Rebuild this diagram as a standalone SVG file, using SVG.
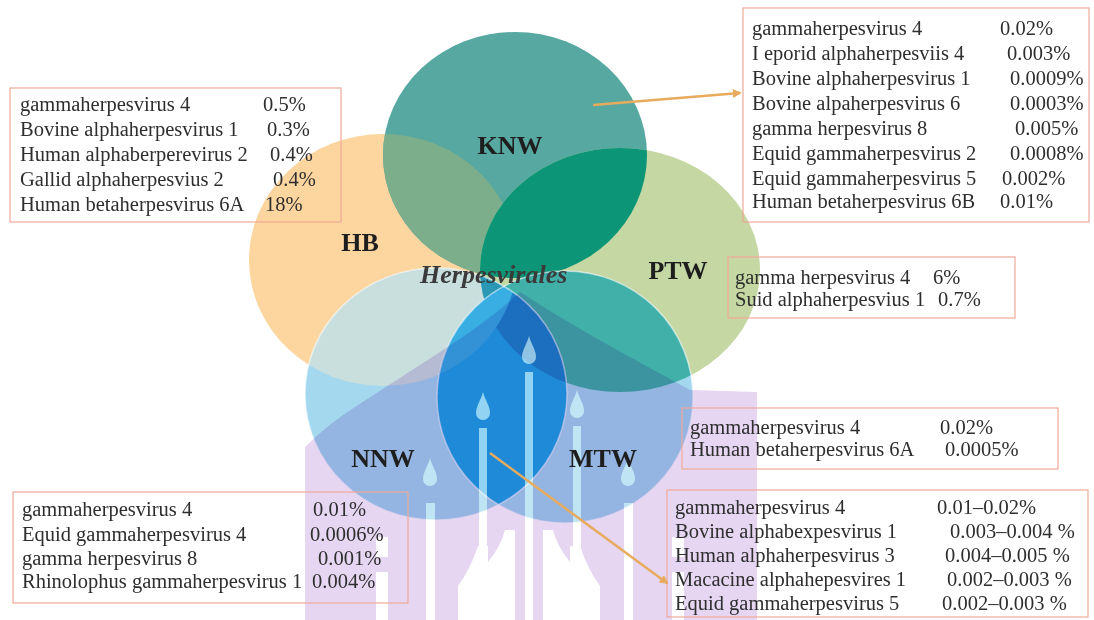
<svg xmlns="http://www.w3.org/2000/svg" xmlns:xlink="http://www.w3.org/1999/xlink" width="1094" height="620" viewBox="0 0 1094 620">
<style>
.t{font-family:"Liberation Serif","Times New Roman",serif;font-size:20.5px;fill:#2e2e2e}
.lbl{font-family:"Liberation Serif","Times New Roman",serif;font-size:26px;font-weight:bold;fill:#1e1e1e;text-anchor:middle}
.it{font-family:"Liberation Serif","Times New Roman",serif;font-size:26px;font-style:italic;font-weight:bold;fill:#3a3a3a}
.box{fill:none;stroke:#f0a898;stroke-width:1.2}
.arr{fill:none;stroke:#e8ab5e;stroke-width:2.5;marker-end:url(#ah)}
.edge{fill:none;stroke:#ffffff;stroke-opacity:0.55;stroke-width:1.5}
</style>
<defs>
<ellipse id="eHB" cx="383" cy="260" rx="134" ry="126"/>
<ellipse id="eKNW" cx="515" cy="155" rx="132" ry="123"/>
<ellipse id="ePTW" cx="620" cy="270" rx="140" ry="122"/>
<ellipse id="eNNW" cx="436" cy="394" rx="131" ry="126"/>
<ellipse id="eMTW" cx="565" cy="397" rx="128" ry="126"/>
<clipPath id="cHB"><use xlink:href="#eHB"/></clipPath>
<clipPath id="cKNW"><use xlink:href="#eKNW"/></clipPath>
<clipPath id="cPTW"><use xlink:href="#ePTW"/></clipPath>
<clipPath id="cNNW"><use xlink:href="#eNNW"/></clipPath>
<clipPath id="cMTW"><use xlink:href="#eMTW"/></clipPath>
<g id="holes">
<path d="M529,336 C531,344 536,350 536,357 A7,7 0 0 1 522,357 C522,350 527,344 529,336 Z"/>
<rect x="525" y="372" width="8" height="248"/>
<path d="M483,392 C485,400 490,406 490,413 A7,7 0 0 1 476,413 C476,406 481,400 483,392 Z"/>
<rect x="479" y="428" width="8" height="192"/>
<path d="M577,390 C579,398 584,404 584,411 A7,7 0 0 1 570,411 C570,404 575,398 577,390 Z"/>
<rect x="573" y="426" width="8" height="194"/>
<path d="M430,458 C432,466 437,472 437,479 A7,7 0 0 1 423,479 C423,472 428,466 430,458 Z"/>
<rect x="426" y="503" width="9" height="117"/>
<path d="M628,458 C630,466 635,472 635,479 A7,7 0 0 1 621,479 C621,472 626,466 628,458 Z"/>
<rect x="624" y="503" width="9" height="117"/>
<rect x="376" y="537" width="12" height="20"/>
<rect x="376" y="572" width="12" height="48"/>
<rect x="672" y="537" width="12" height="20"/>
<rect x="672" y="572" width="12" height="48"/>
<path d="M458,620 L458,586 Q470,570 478,546 L488,546 L488,562 Q500,548 505,530 L515,530 L515,620 Z"/>
<path d="M600,620 L600,586 Q588,570 580,546 L570,546 L570,562 Q558,548 553,530 L543,530 L543,620 Z"/>
</g>
<mask id="wmMask" maskUnits="userSpaceOnUse" x="0" y="0" width="1094" height="620">
<rect x="0" y="0" width="1094" height="620" fill="#fff"/>
<use xlink:href="#holes" fill="#000"/>
</mask>
<marker id="ah" viewBox="0 0 10 10" refX="8" refY="5" markerWidth="3.6" markerHeight="3.6" orient="auto">
<path d="M0,0 L10,5 L0,10 Z" fill="#e8ab5e"/>
</marker>
</defs>
<rect x="0" y="0" width="1094" height="620" fill="#ffffff"/>

<g id="circles">
<use xlink:href="#eHB" fill="#fcd59f"/>
<use xlink:href="#eKNW" fill="#56a8a1"/>
<use xlink:href="#eKNW" fill="#7dae8b" clip-path="url(#cHB)"/>
<use xlink:href="#ePTW" fill="#c5d7a3"/>
<use xlink:href="#ePTW" fill="#0c9677" clip-path="url(#cKNW)"/>
<use xlink:href="#eNNW" fill="#a4d8ee"/>
<use xlink:href="#eNNW" fill="#c9dfde" clip-path="url(#cHB)"/>
<use xlink:href="#eNNW" fill="#3ca6ae" clip-path="url(#cKNW)"/>
<use xlink:href="#eNNW" fill="#2a97b4" clip-path="url(#cPTW)"/>
<use xlink:href="#eMTW" fill="#a4d8ee"/>
<use xlink:href="#eMTW" fill="#41b0a9" clip-path="url(#cPTW)"/>
<use xlink:href="#eMTW" fill="#2d9c9f" clip-path="url(#cKNW)"/>
<use xlink:href="#eMTW" fill="#22a4e4" clip-path="url(#cNNW)"/>
<g clip-path="url(#cNNW)"><use xlink:href="#eMTW" fill="#1d84c8" clip-path="url(#cPTW)"/></g>
<g clip-path="url(#cNNW)"><use xlink:href="#eMTW" fill="#38aee2" clip-path="url(#cHB)"/></g>
<use xlink:href="#eNNW" class="edge"/>
<use xlink:href="#eMTW" class="edge"/>
</g>

<g id="watermark">
<path d="M305,620 L305,447 Q328,424 358,405 L440,352 Q490,320 520,292 Q560,318 610,346 L690,390 L757,392 L757,620 Z" fill="#e6d6f2" mask="url(#wmMask)" style="mix-blend-mode:multiply"/>
<g clip-path="url(#cNNW)"><use xlink:href="#holes" fill="#ffffff" fill-opacity="0.3"/></g>
<g clip-path="url(#cMTW)"><use xlink:href="#holes" fill="#ffffff" fill-opacity="0.3"/></g>
</g>

<g id="node-KNW"><text class="lbl" x="510" y="154">KNW</text></g>
<g id="node-HB"><text class="lbl" x="360" y="251">HB</text></g>
<g id="node-PTW"><text class="lbl" x="678" y="279">PTW</text></g>
<g id="node-NNW"><text class="lbl" x="383" y="467">NNW</text></g>
<g id="node-MTW"><text class="lbl" x="603" y="467">MTW</text></g>
<g id="node-center"><text class="it" x="420" y="283">Herpesvirales</text></g>

<g id="box-HB">
<rect class="box" x="10" y="88" width="331" height="134"/>
<text class="t" x="20" y="111">gammaherpesvirus 4</text><text class="t" x="263" y="111">0.5%</text>
<text class="t" x="20" y="136">Bovine alphaherpesvirus 1</text><text class="t" x="267" y="136">0.3%</text>
<text class="t" x="20" y="161">Human alphaberperevirus 2</text><text class="t" x="270" y="161">0.4%</text>
<text class="t" x="20" y="186">Gallid alphaherpesvius 2</text><text class="t" x="273" y="186">0.4%</text>
<text class="t" x="20" y="211">Human betaherpesvirus 6A</text><text class="t" x="265" y="211">18%</text>
</g>

<g id="box-KNW">
<rect class="box" x="743" y="8" width="346" height="214"/>
<text class="t" x="752" y="35">gammaherpesvirus 4</text><text class="t" x="1000" y="35">0.02%</text>
<text class="t" x="752" y="60">I eporid alphaherpesviis 4</text><text class="t" x="1007" y="60">0.003%</text>
<text class="t" x="752" y="85">Bovine alphaherpesvirus 1</text><text class="t" x="1010" y="85">0.0009%</text>
<text class="t" x="752" y="110">Bovine alpaherpesvirus 6</text><text class="t" x="1010" y="110">0.0003%</text>
<text class="t" x="752" y="135">gamma herpesvirus 8</text><text class="t" x="1015" y="135">0.005%</text>
<text class="t" x="752" y="160">Equid gammaherpesvirus 2</text><text class="t" x="1010" y="160">0.0008%</text>
<text class="t" x="752" y="185">Equid gammaherpesvirus 5</text><text class="t" x="1002" y="185">0.002%</text>
<text class="t" x="752" y="208">Human betaherpesvirus 6B</text><text class="t" x="1000" y="208">0.01%</text>
</g>

<g id="box-PTW">
<rect class="box" x="728" y="257" width="287" height="61"/>
<text class="t" x="735" y="284">gamma herpesvirus 4</text><text class="t" x="933" y="284">6%</text>
<text class="t" x="735" y="306">Suid alphaherpesvius 1</text><text class="t" x="938" y="306">0.7%</text>
</g>

<g id="box-MTW">
<rect class="box" x="682" y="408" width="376" height="61"/>
<text class="t" x="690" y="434">gammaherpesvirus 4</text><text class="t" x="940" y="434">0.02%</text>
<text class="t" x="690" y="456">Human betaherpesvirus 6A</text><text class="t" x="945" y="456">0.0005%</text>
</g>

<g id="box-center">
<rect class="box" x="667" y="490" width="421" height="127"/>
<text class="t" x="675" y="514">gammaherpesvirus 4</text><text class="t" x="937" y="514">0.01–0.02%</text>
<text class="t" x="675" y="538">Bovine alphabexpesvirus 1</text><text class="t" x="950" y="538">0.003–0.004  %</text>
<text class="t" x="675" y="562">Human alphaherpesvirus 3</text><text class="t" x="945" y="562">0.004–0.005 %</text>
<text class="t" x="675" y="586">Macacine alphahepesvires 1</text><text class="t" x="947" y="586">0.002–0.003 %</text>
<text class="t" x="675" y="610">Equid gammaherpesvirus 5</text><text class="t" x="942" y="610">0.002–0.003 %</text>
</g>

<g id="box-NNW">
<rect class="box" x="13" y="492" width="395" height="111"/>
<text class="t" x="22" y="516">gammaherpesvirus 4</text><text class="t" x="313" y="516">0.01%</text>
<text class="t" x="22" y="541">Equid gammaherpesvirus 4</text><text class="t" x="310" y="541">0.0006%</text>
<text class="t" x="22" y="565">gamma herpesvirus 8</text><text class="t" x="318" y="565">0.001%</text>
<text class="t" x="22" y="588">Rhinolophus gammaherpesvirus 1</text><text class="t" x="312" y="588">0.004%</text>
</g>

<g id="connectors">
<line class="arr" x1="593" y1="105" x2="740" y2="93"/>
<line class="arr" x1="490" y1="453" x2="667" y2="583"/>
</g>
</svg>
